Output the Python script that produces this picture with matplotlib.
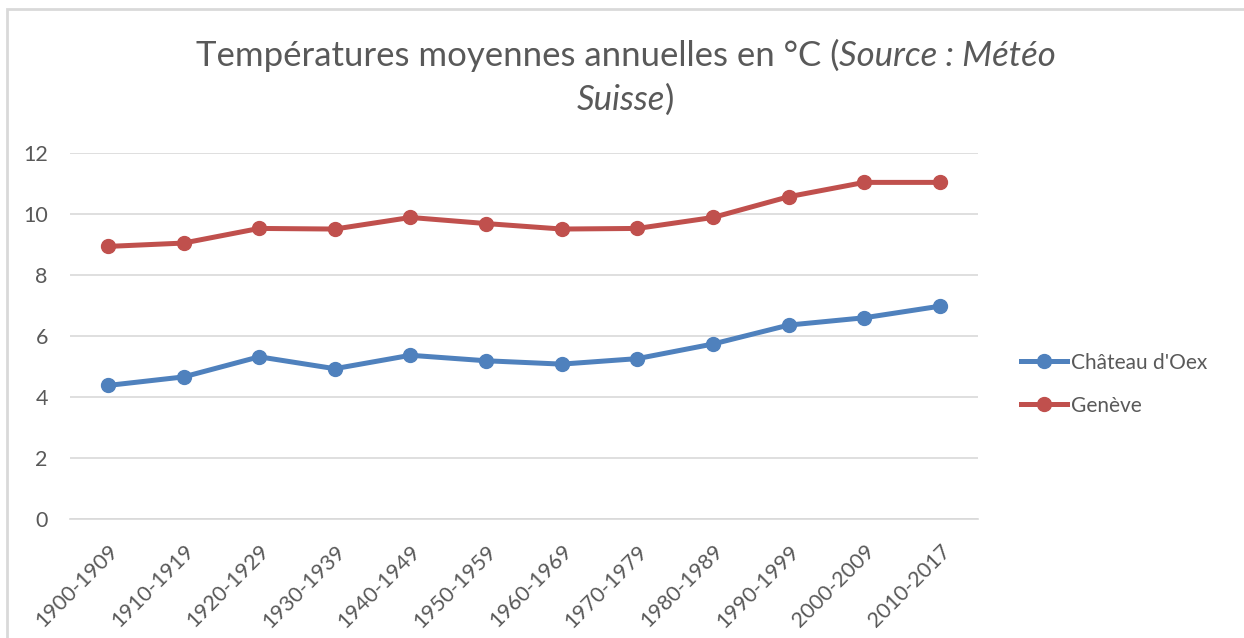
import matplotlib.pyplot as plt
from matplotlib.patches import Rectangle

plt.rcParams["font.family"] = ["Lato", "DejaVu Sans"]

# Températures moyennes par décennie (°C)
periodes = ["1900-1909", "1910-1919", "1920-1929", "1930-1939", "1940-1949", "1950-1959",
            "1960-1969", "1970-1979", "1980-1989", "1990-1999", "2000-2009", "2010-2017"]
chateau_doex = [4.38, 4.66, 5.32, 4.93, 5.37, 5.19, 5.08, 5.26, 5.74, 6.36, 6.60, 6.98]
geneve = [8.94, 9.05, 9.53, 9.51, 9.89, 9.69, 9.51, 9.53, 9.89, 10.57, 11.04, 11.04]

gris = "#595959"
bleu = "#4F81BD"
rouge = "#C0504D"

fig = plt.figure(figsize=(12.44, 6.38), dpi=100)
ax = fig.add_axes([0.0563, 0.1865, 0.7297, 0.5735])

x = range(len(periodes))
ax.plot(x, chateau_doex, color=bleu, lw=3.6, marker="o", ms=10, label="Château d'Oex")
ax.plot(x, geneve, color=rouge, lw=3.6, marker="o", ms=10, label="Genève")

ax.set_xlim(-0.5, len(periodes) - 0.5)
ax.set_ylim(0, 12)
ax.set_yticks(range(0, 13, 2))
ax.set_xticks(list(x))
ax.set_xticklabels(periodes, rotation=45, ha="right", va="top", rotation_mode="anchor")
ax.tick_params(axis="both", length=0, colors=gris, labelsize=15.5)
ax.tick_params(axis="y", pad=16)
ax.tick_params(axis="x", pad=16)
ax.grid(axis="y", color="#d9d9d9", lw=1.2)
ax.set_axisbelow(True)
for s in ax.spines.values():
    s.set_visible(False)
ax.spines["bottom"].set_visible(True)
ax.spines["bottom"].set_color("#d9d9d9")
ax.spines["bottom"].set_linewidth(1.2)

fig.legend(loc="center left", bbox_to_anchor=(0.806, 0.398), frameon=False,
           fontsize=15, labelcolor=gris, handlelength=2.2, handletextpad=0.2,
           labelspacing=1.1)

# titre : parties droites et italiques mélangées
fig.canvas.draw()
renderer = fig.canvas.get_renderer()
cx = 0.503


def ligne(parties, y):
    textes = [fig.text(0, y, t, fontsize=25, color=gris, style=st, va="baseline")
              for t, st in parties]
    largeurs = [t.get_window_extent(renderer).width / fig.bbox.width for t in textes]
    pos = cx - sum(largeurs) / 2
    for t, w in zip(textes, largeurs):
        t.set_x(pos)
        pos += w


ligne([("Températures moyennes annuelles en °C (", "normal"),
       ("Source : Météo", "italic")], 1 - 66 / 638)
ligne([("Suisse", "italic"), (")", "normal")], 1 - 110 / 638)

# cadre gris autour du graphique
fig.patches.append(Rectangle((7 / 1244, -0.01), 1.1, 1 - 9 / 638 + 0.01,
                             transform=fig.transFigure, fill=False,
                             edgecolor="#d9d9d9", lw=2))

fig.savefig("out.png", dpi=100)
